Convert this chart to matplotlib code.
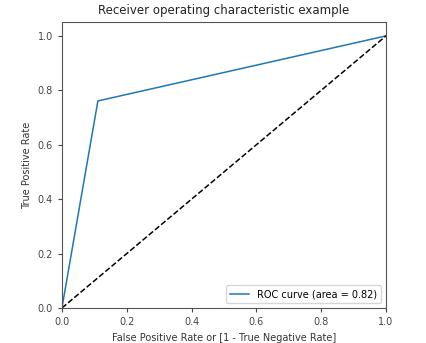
import matplotlib
matplotlib.use("Agg")
import matplotlib.pyplot as plt

# ROC points
fpr = [0.0, 0.111, 1.0]
tpr = [0.0, 0.761, 1.0]
roc_auc = 0.82

fig = plt.figure(figsize=(4.27, 3.43), dpi=100)
ax = fig.add_axes([0.145, 0.102, 0.759, 0.833])

ax.plot(fpr, tpr, color="#1f77b4", lw=1.1, label="ROC curve (area = %0.2f)" % roc_auc)
ax.plot([0, 1], [0, 1], "k--", lw=1.1)
ax.set_xlim([0.0, 1.0])
ax.set_ylim([0.0, 1.05])
ax.set_xlabel("False Positive Rate or [1 - True Negative Rate]", fontsize=7, color="#333333")
ax.set_ylabel("True Positive Rate", fontsize=7, color="#333333")
ax.set_title("Receiver operating characteristic example", fontsize=8.5, color="#222222")
ax.tick_params(labelsize=7, length=3, colors="#444444")
for s in ax.spines.values():
    s.set_color("#555555")
ax.legend(loc="lower right", fontsize=7)

fig.savefig("out.png", dpi=100)
